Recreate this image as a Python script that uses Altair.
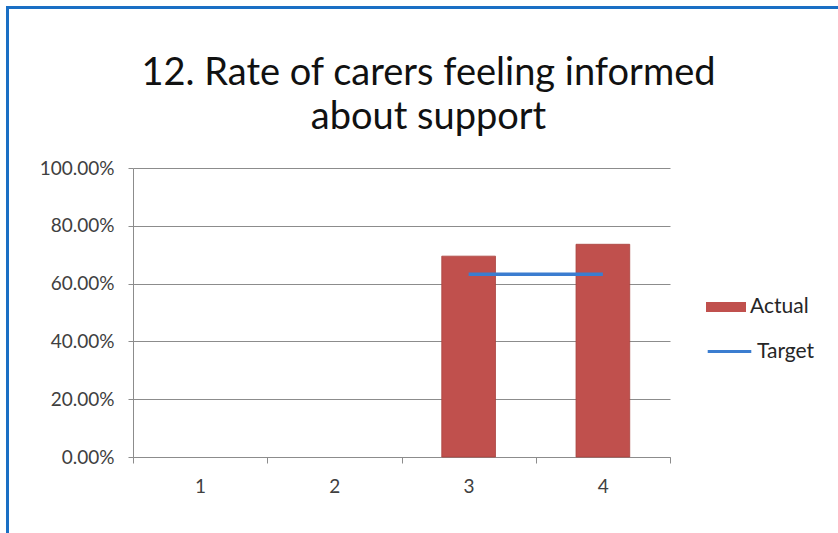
import altair as alt
import pandas as pd

categories = ["1", "2", "3", "4"]
actual = [None, None, 0.695, 0.736]
target = [None, None, 0.632, 0.632]
y_ticks = [0, 0.2, 0.4, 0.6, 0.8, 1.0]

df = pd.DataFrame({"Category": categories, "Actual": actual, "Target": target})

FONT = "Lato"
RED = "#c0504d"
BLUE = "#3b7dd0"

x_enc = alt.X(
    "Category:O",
    sort=categories,
    scale=alt.Scale(domain=categories, paddingInner=0, paddingOuter=0),
    axis=alt.Axis(
        title=None, labelAngle=0, tickBand="extent", tickSize=6,
        labelPadding=14, domainColor="#8c8c8c", tickColor="#8c8c8c",
    ),
)
y_scale = alt.Scale(domain=[0, 1], nice=False)

bars = (
    alt.Chart(df)
    .transform_filter("datum.Actual != null")
    .transform_calculate(series="'Actual'")
    .mark_bar(width=alt.RelativeBandSize(0.4), stroke="#a8413e", strokeWidth=0.8)
    .encode(
        x=x_enc,
        y=alt.Y(
            "Actual:Q",
            scale=y_scale,
            axis=alt.Axis(
                title=None, format=".2%", values=y_ticks, tickSize=5,
                labelPadding=14, grid=True, gridColor="#8c8c8c",
                domainColor="#8c8c8c", tickColor="#8c8c8c",
            ),
        ),
        fill=alt.Fill(
            "series:N",
            scale=alt.Scale(domain=["Actual"], range=[RED]),
            legend=alt.Legend(
                title=None, orient="none", legendX=573, legendY=119,
                symbolType="M-1,-0.25H1V0.25H-1Z", symbolSize=1600,
                symbolStrokeWidth=0,
            ),
        ),
    )
)

line = (
    alt.Chart(df)
    .transform_filter("datum.Target != null")
    .transform_calculate(series="'Target'")
    .mark_line(strokeWidth=3.5)
    .encode(
        x=x_enc,
        y=alt.Y("Target:Q", scale=y_scale),
        stroke=alt.Stroke(
            "series:N",
            scale=alt.Scale(domain=["Target"], range=[BLUE]),
            legend=alt.Legend(
                title=None, orient="none", legendX=573, legendY=160,
                symbolType="stroke", symbolSize=1900, symbolStrokeWidth=3,
            ),
        ),
    )
)

frame = (
    alt.Chart(pd.DataFrame({"a": [0]}))
    .mark_rect(filled=False, stroke="#1a6fc4", strokeWidth=3)
    .encode(
        x=alt.value(-125.5), x2=alt.value(900),
        y=alt.value(-160.5), y2=alt.value(500),
    )
)

chart = (
    alt.layer(frame, bars, line)
    .resolve_scale(fill="independent", stroke="independent")
    .properties(
        width=537,
        height=289,
        autosize=alt.AutoSizeParams(type="none"),
        padding={"left": 133, "top": 168, "right": 168, "bottom": 76},
        title=alt.TitleParams(
            text=["12. Rate of carers feeling informed", "about support"],
            font=FONT, fontSize=38, fontWeight="normal", color="#111111",
            anchor="middle", dx=27, dy=131, offset=0, lineHeight=44,
        ),
        background="white",
    )
    .configure_view(stroke=None)
    .configure_axis(labelFont=FONT, labelFontSize=19, labelColor="#404040")
    .configure_legend(labelFont=FONT, labelFontSize=21, labelColor="#262626", labelOffset=4)
)

chart.save("out.html", embed_options={"renderer": "svg", "actions": False})
